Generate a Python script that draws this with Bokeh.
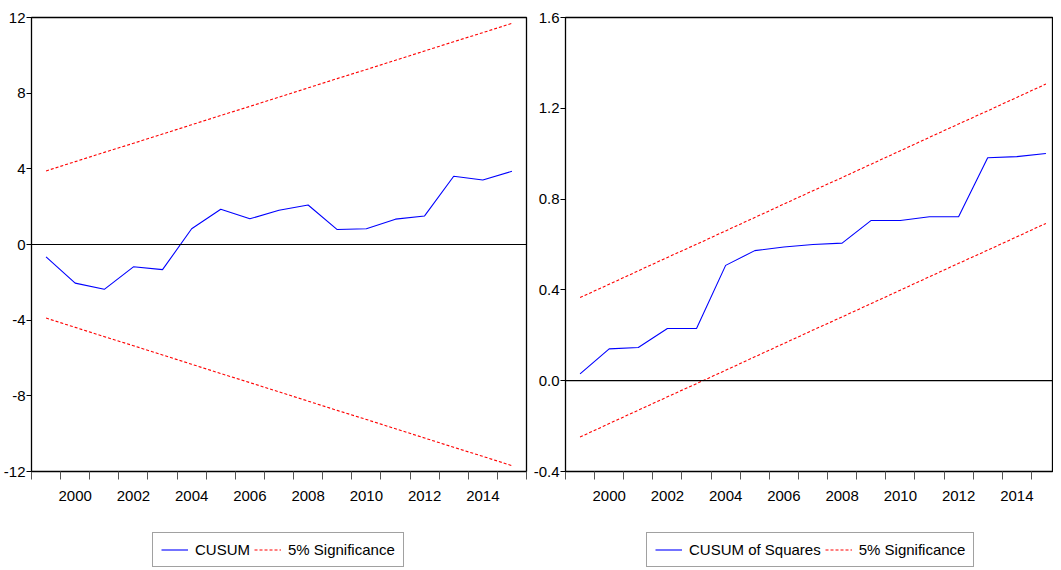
from bokeh.plotting import figure
from bokeh.models import (Range1d, FixedTicker, Span, Legend, LegendItem,
                          NumeralTickFormatter)
from bokeh.layouts import row, column
from bokeh.embed import file_html
from bokeh.resources import INLINE

# ---------------- data ----------------
years = [1999, 2000, 2001, 2002, 2003, 2004, 2005, 2006, 2007, 2008,
         2009, 2010, 2011, 2012, 2013, 2014, 2015]

cusum = [-0.65, -2.04, -2.37, -1.18, -1.33, 0.83, 1.86, 1.36, 1.81, 2.09,
         0.79, 0.83, 1.34, 1.51, 3.61, 3.41, 3.87]
cusum_upper = [3.89, 4.38, 4.87, 5.35, 5.84, 6.33, 6.82, 7.30, 7.79, 8.28,
               8.77, 9.25, 9.74, 10.23, 10.72, 11.20, 11.69]
cusum_lower = [-3.89, -4.38, -4.87, -5.35, -5.84, -6.33, -6.82, -7.30, -7.79, -8.28,
               -8.77, -9.25, -9.74, -10.23, -10.72, -11.20, -11.69]

cusumsq = [0.030, 0.140, 0.146, 0.230, 0.230, 0.508, 0.573, 0.589, 0.600, 0.606,
           0.706, 0.706, 0.722, 0.722, 0.982, 0.987, 1.001]
cusumsq_upper = [0.366, 0.425, 0.484, 0.543, 0.601, 0.660, 0.719, 0.778, 0.837,
                 0.895, 0.954, 1.013, 1.072, 1.131, 1.189, 1.248, 1.307]
cusumsq_lower = [-0.248, -0.189, -0.130, -0.071, -0.013, 0.046, 0.105, 0.164, 0.223,
                 0.281, 0.340, 0.399, 0.458, 0.517, 0.575, 0.634, 0.693]

x_label_years = [2000, 2002, 2004, 2006, 2008, 2010, 2012, 2014]
x_boundaries = [1998.5, 1999.5, 2000.5, 2001.5, 2002.5, 2003.5, 2004.5, 2005.5,
                2006.5, 2007.5, 2008.5, 2009.5, 2010.5, 2011.5, 2012.5, 2013.5,
                2014.5, 2015.5]
left_yticks = [-12, -8, -4, 0, 4, 8, 12]
right_yticks = [-0.4, 0.0, 0.4, 0.8, 1.2, 1.6]

FONT = "Liberation Sans"
FS = "15px"
BLUE = "#0000FF"
RED = "#FF0000"
DASH = "3 2"


def make_panel(y, up, lo, yticks, yr, xend, w, h, bl, bt, br, bb, fmt):
    p = figure(width=w, height=h, output_backend="svg",
               toolbar_location=None, x_range=Range1d(1998.5, xend),
               y_range=Range1d(*yr), min_border_left=bl, min_border_top=bt,
               min_border_right=br, min_border_bottom=bb)
    p.grid.visible = False
    p.outline_line_color = "black"
    p.outline_line_width = 1.3
    p.background_fill_color = "white"
    p.border_fill_color = "white"

    xa = p.xaxis[0]
    xa.ticker = FixedTicker(ticks=x_label_years, minor_ticks=x_boundaries)
    xa.major_tick_out = 8
    xa.major_tick_in = 0
    xa.major_tick_line_color = None
    xa.minor_tick_out = 8
    xa.minor_tick_in = 0
    xa.minor_tick_line_color = "#555555"
    xa.axis_line_color = "black"
    xa.major_label_text_font = FONT
    xa.major_label_text_font_size = FS
    xa.major_label_text_color = "black"
    xa.major_label_standoff = 11

    ya = p.yaxis[0]
    ya.ticker = FixedTicker(ticks=yticks)
    ya.formatter = NumeralTickFormatter(format=fmt)
    ya.minor_tick_out = 0
    ya.minor_tick_in = 0
    ya.major_tick_out = 5
    ya.major_tick_in = 0
    ya.major_tick_line_color = "black"
    ya.axis_line_color = "black"
    ya.major_label_text_font = FONT
    ya.major_label_text_font_size = FS
    ya.major_label_text_color = "black"
    ya.major_label_standoff = 1

    p.add_layout(Span(location=0, dimension="width", line_color="black",
                      line_width=1.2))

    p.line(years, y, line_color=BLUE, line_width=1.1)
    p.line(years, up, line_color=RED, line_width=1.1, line_dash=DASH)
    p.line(years, lo, line_color=RED, line_width=1.1, line_dash=DASH)
    return p


def make_legend(y, up, label, w, h, loc):
    # legend strip: the series are drawn out of view, only their legend shows
    q = figure(width=w, height=h, output_backend="svg", toolbar_location=None,
               x_range=Range1d(0, 1), y_range=Range1d(0, 1),
               x_axis_type=None, y_axis_type=None,
               min_border=0, min_border_left=0, min_border_right=0,
               min_border_top=0, min_border_bottom=0)
    q.grid.visible = False
    q.outline_line_color = None
    q.background_fill_color = "white"
    q.border_fill_color = "white"
    r1 = q.line(years, y, line_color=BLUE, line_width=1.1)
    r2 = q.line(years, up, line_color=RED, line_width=1.1, line_dash=DASH)
    leg = Legend(items=[LegendItem(label=label, renderers=[r1]),
                        LegendItem(label="5% Significance", renderers=[r2])],
                 orientation="horizontal", location=loc)
    leg.label_text_font = FONT
    leg.label_text_font_size = FS
    leg.label_text_color = "black"
    leg.glyph_width = 27
    leg.glyph_height = 17
    leg.label_height = 17
    leg.label_standoff = 7
    leg.spacing = 4
    leg.padding = 8
    leg.margin = 0
    leg.border_line_color = "#444444"
    leg.border_line_width = 1
    leg.background_fill_alpha = 1
    q.add_layout(leg, "center")
    return q


p1 = make_panel(cusum, cusum_upper, cusum_lower, left_yticks, (-12, 12),
                2015.5, 530, 510, 29, 17, 4, 39, "0")
p2 = make_panel(cusumsq, cusumsq_upper, cusumsq_lower, right_yticks, (-0.4, 1.6),
                2015.26, 523, 510, 32, 17, 0, 39, "0.0")

l1 = make_legend(cusum, cusum_upper, "CUSUM", 530, 58, (152, 1))
l2 = make_legend(cusumsq, cusumsq_upper, "CUSUM of Squares", 523, 58, (116, 1))

layout = column(row(p1, p2, spacing=0), row(l1, l2, spacing=0), spacing=0)
open("out.html", "w").write(file_html(layout, INLINE))
